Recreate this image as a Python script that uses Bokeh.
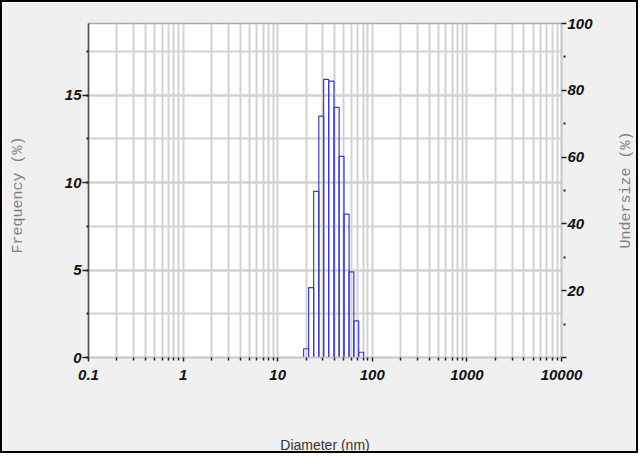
import math
from bokeh.plotting import figure
from bokeh.models import (Range1d, LinearAxis, FixedTicker, SingleIntervalTicker,
                          ColumnDataSource, Label)
from bokeh.embed import file_html
from bokeh.resources import INLINE

# ---- data ----
bin_edges = [18.8, 21.2, 24.0, 27.2, 30.6, 34.6, 39.4, 44.6, 50.2, 56.8, 63.8, 71.8, 81.0]
frequency = [0.5, 4.0, 9.5, 13.8, 15.9, 15.8, 14.3, 11.5, 8.2, 4.9, 2.1, 0.3]
x_ticks = [0.1, 1, 10, 100, 1000, 10000]
x_tick_labels = ["0.1", "1", "10", "100", "1000", "10000"]
undersize_ticks = [0, 20, 40, 60, 80, 100]
undersize_labels = ["", "20", "40", "60", "80", "100"]

TICK_FONT = "Liberation Sans Narrow, Liberation Sans, Arial, sans-serif"
MONO = "Liberation Mono, DejaVu Sans Mono, monospace"

src = ColumnDataSource(dict(left=bin_edges[:-1], right=bin_edges[1:],
                            top=frequency, bottom=[0] * len(frequency)))

p = figure(width=638, height=453, x_axis_type="log",
           x_range=Range1d(0.1, 10000), y_range=Range1d(0, 19.1),
           output_backend="svg", toolbar_location=None,
           min_border_left=86, min_border_right=79, min_border_top=21,
           min_border_bottom=97)
p.styles = {"border": "2px solid black"}
p.border_fill_color = "#f0f0f0"
p.background_fill_color = "white"
p.outline_line_color = "#a8a8a8"
p.outline_line_width = 1.5

p.extra_y_ranges = {"und": Range1d(0, 100)}

p.quad(left="left", right="right", top="top", bottom="bottom", source=src,
       fill_alpha=0, line_color="#3a3ad0", line_width=1.2)

# x axis
minor_x = [m * 10.0 ** e for e in range(-1, 4) for m in range(2, 10)]
xt = FixedTicker(ticks=x_ticks, minor_ticks=minor_x)
xa = p.xaxis[0]
xa.ticker = xt
xa.major_label_overrides = {float(v): l for v, l in zip(x_ticks, x_tick_labels)}
xa.axis_line_color = "#c8c8c8"
xa.axis_line_width = 1.5
xa.major_tick_line_color = "#222222"
xa.minor_tick_line_color = "#222222"
xa.major_tick_line_width = 1.5
xa.minor_tick_line_width = 1.5
xa.major_tick_in = 0
xa.major_tick_out = 4
xa.minor_tick_in = 0
xa.minor_tick_out = 3
xa.major_label_standoff = 8
xa.major_label_text_font = TICK_FONT
xa.major_label_text_font_style = "bold italic"
xa.major_label_text_font_size = "15px"
xa.major_label_text_color = "#111111"
xa.axis_label = "Diameter (nm)"
xa.axis_label_text_font = TICK_FONT
xa.axis_label_text_font_style = "normal"
xa.axis_label_text_font_size = "14px"
xa.axis_label_text_color = "#333333"
xa.axis_label_standoff = 54

# left axis
ya = p.yaxis[0]
ya.ticker = SingleIntervalTicker(interval=5, num_minor_ticks=2)
ya.axis_line_color = "#555555"
ya.axis_line_width = 1.5
ya.major_tick_line_color = "#222222"
ya.minor_tick_line_color = "#222222"
ya.major_tick_line_width = 1.5
ya.minor_tick_line_width = 2
ya.major_tick_in = 0
ya.major_tick_out = 6
ya.minor_tick_in = 0
ya.minor_tick_out = 2
ya.major_label_standoff = 1
ya.major_label_text_font = TICK_FONT
ya.major_label_text_font_style = "bold italic"
ya.major_label_text_font_size = "15px"
ya.major_label_text_color = "#111111"
ya.axis_label = "Frequency  (%)"
ya.axis_label_text_font = MONO
ya.axis_label_text_font_style = "normal"
ya.axis_label_text_font_size = "15px"
ya.axis_label_text_color = "#808080"
ya.axis_label_standoff = 35

# right axis
ra = LinearAxis(y_range_name="und",
                ticker=FixedTicker(ticks=undersize_ticks,
                                   minor_ticks=[10, 30, 50, 70, 90]))
ra.major_label_overrides = {v: l for v, l in zip(undersize_ticks, undersize_labels)}
ra.axis_line_color = "#c8c8c8"
ra.axis_line_width = 1.5
ra.major_tick_line_color = "#222222"
ra.minor_tick_line_color = "#222222"
ra.major_tick_line_width = 1.5
ra.minor_tick_line_width = 2
ra.major_tick_in = 0
ra.major_tick_out = 5
ra.minor_tick_in = -2
ra.minor_tick_out = 4
ra.major_label_standoff = 1
ra.major_label_text_font = TICK_FONT
ra.major_label_text_font_style = "bold italic"
ra.major_label_text_font_size = "15px"
ra.major_label_text_color = "#111111"
p.add_layout(ra, "right")

# right axis title in the right-hand panel, reading bottom-to-top
p.add_layout(Label(x=31, y=172, x_units="screen", y_units="screen",
                   text="Undersize  (%)", angle=math.pi / 2,
                   text_align="center", text_baseline="middle",
                   text_font=MONO, text_font_size="15px",
                   text_color="#808080"), "right")

# grids
for g in (p.xgrid[0], p.ygrid[0]):
    g.grid_line_color = "#d2d2d2"
    g.grid_line_width = 2
    g.minor_grid_line_color = "#d2d2d2"
    g.minor_grid_line_width = 2
p.xgrid[0].ticker = xt

open("out.html", "w").write(file_html(p, INLINE))
